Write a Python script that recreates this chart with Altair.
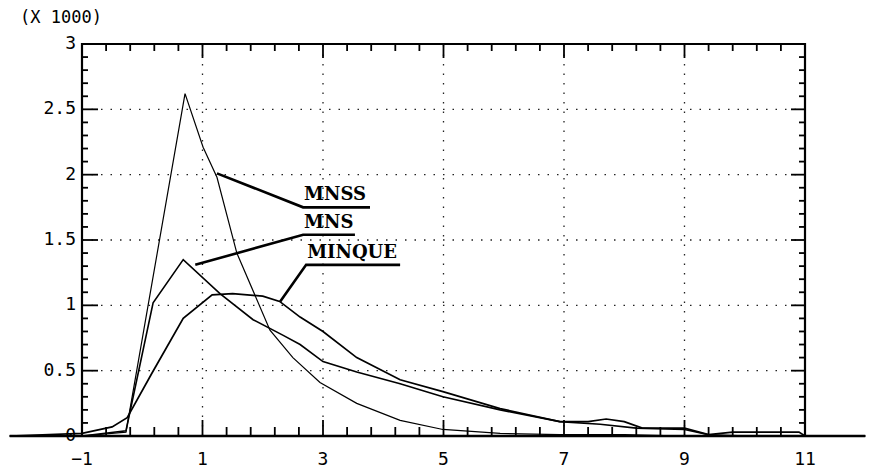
import altair as alt
import pandas as pd

# ---- curves (values in thousands) ----
mnss_x = [-2.2, -1.0, -0.27, 0.71, 1.01, 1.24, 1.57, 2.12, 2.50, 2.95, 3.56, 4.28, 4.99, 5.94, 6.93, 8.0, 9.0, 10.0, 11.0, 12.0]
mnss_y = [0.0, 0.0, 0.03, 2.62, 2.21, 1.98, 1.40, 0.81, 0.60, 0.41, 0.25, 0.12, 0.05, 0.02, 0.01, 0.01, 0.0, 0.0, 0.0, 0.0]

mns_x = [-2.2, -1.0, -0.27, 0.18, 0.68, 1.29, 1.84, 2.34, 2.62, 3.0, 3.56, 4.28, 4.99, 5.94, 6.93, 7.6, 8.2, 9.0, 9.4, 10.0, 11.0, 12.0]
mns_y = [0.0, 0.0, 0.04, 1.02, 1.35, 1.09, 0.89, 0.77, 0.70, 0.57, 0.49, 0.40, 0.30, 0.20, 0.11, 0.09, 0.06, 0.05, 0.01, 0.0, 0.0, 0.0]

minque_x = [-2.2, -1.0, -0.5, -0.25, 0.16, 0.68, 1.16, 1.5, 2.0, 2.28, 2.62, 3.0, 3.56, 4.28, 4.99, 5.94, 6.93, 7.4, 7.7, 8.0, 8.3, 9.0, 9.4, 9.8, 10.9, 11.0, 12.0]
minque_y = [0.0, 0.02, 0.07, 0.14, 0.48, 0.90, 1.08, 1.09, 1.07, 1.03, 0.91, 0.80, 0.60, 0.43, 0.34, 0.21, 0.11, 0.11, 0.13, 0.11, 0.06, 0.06, 0.01, 0.03, 0.03, 0.0, 0.0]

series_names = ["MNSS", "MNS", "MINQUE"]

# leader lines: point on curve -> elbow -> end of underline
leader_x = {"MNSS": [1.24, 2.67, 3.78], "MNS": [0.88, 2.67, 3.53], "MINQUE": [2.29, 2.72, 4.28]}
leader_y = {"MNSS": [2.01, 1.75, 1.75], "MNS": [1.31, 1.54, 1.54], "MINQUE": [1.03, 1.31, 1.31]}

# axis labels, grid and ticks
x_labels = [-1, 1, 3, 5, 7, 9, 11]
y_labels = [0, 0.5, 1, 1.5, 2, 2.5, 3]
y_label_text = ["0", "0.5", "1", "1.5", "2", "2.5", "3"]
x_major = [1, 3, 5, 7, 9]
x_minor = [round(-1 + 0.4 * k, 2) for k in range(1, 30) if k % 5]
y_major = [0.5, 1, 1.5, 2, 2.5]
y_minor = [round(0.1 * k, 2) for k in range(1, 30) if k % 5]

XMIN, XMAX, YMIN, YMAX = -1, 11, 0, 3

# ---- tables ----
rows = []
for name, xs_, ys_, w in [("MNSS", mnss_x, mnss_y, 1.2), ("MNS", mns_x, mns_y, 1.6), ("MINQUE", minque_x, minque_y, 1.7)]:
    for i, (a, b) in enumerate(zip(xs_, ys_)):
        rows.append({"series": name, "x": a, "y": b, "order": i, "w": w})
curves = pd.DataFrame(rows)

lrows = []
for name in series_names:
    for i, (a, b) in enumerate(zip(leader_x[name], leader_y[name])):
        lrows.append({"series": name, "x": a, "y": b, "order": i})
leaders = pd.DataFrame(lrows)
labels = pd.DataFrame({
    "series": series_names,
    "x": [leader_x[n][1] for n in series_names],
    "y": [leader_y[n][1] for n in series_names],
})

xs = alt.Scale(domain=[XMIN, XMAX], nice=False, zero=False)
ys = alt.Scale(domain=[YMIN, YMAX], nice=False, zero=False)

MONO = "DejaVu Sans Mono"

lines = alt.Chart(curves).mark_line(color="black", clip=False, strokeJoin="miter").encode(
    x=alt.X("x:Q", scale=xs, axis=None),
    y=alt.Y("y:Q", scale=ys, axis=None),
    detail="series:N",
    order="order:Q",
    strokeWidth=alt.StrokeWidth("w:Q", scale=None),
)

# dotted grid
vgrid = alt.Chart(pd.DataFrame({"v": x_major})).mark_rule(
    color="#222", strokeWidth=1.3, strokeDash=[1.5, 8]
).encode(
    x=alt.X("v:Q", scale=xs, axis=None),
    y=alt.YDatum(YMIN, scale=ys, axis=None),
    y2=alt.Y2Datum(YMAX),
)
hgrid = alt.Chart(pd.DataFrame({"v": y_major})).mark_rule(
    color="#222", strokeWidth=1.3, strokeDash=[1.5, 8]
).encode(
    y=alt.Y("v:Q", scale=ys, axis=None),
    x=alt.XDatum(XMIN, scale=xs, axis=None),
    x2=alt.X2Datum(XMAX),
)

# tick labels
xlab = alt.Chart(pd.DataFrame({"v": x_labels})).mark_text(
    baseline="top", dy=15, font=MONO, fontSize=18, color="black", clip=False
).encode(
    x=alt.X("v:Q", scale=xs, axis=None),
    y=alt.YDatum(YMIN, scale=ys, axis=None),
    text=alt.Text("v:Q", format="d"),
)
ylab = alt.Chart(pd.DataFrame({"v": y_labels, "t": y_label_text})).mark_text(
    align="right", baseline="middle", dx=-6, font=MONO, fontSize=18, color="black", clip=False
).encode(
    y=alt.Y("v:Q", scale=ys, axis=None),
    x=alt.XDatum(XMIN, scale=xs, axis=None),
    text="t:N",
)

# thick zero line under the tails of the curves
baseline = alt.Chart(curves).mark_rule(color="black", strokeWidth=2.6, clip=False).encode(
    x=alt.X("min(x):Q", scale=xs, axis=None),
    x2="max(x):Q",
    y=alt.YDatum(0, scale=ys, axis=None),
)

lead = alt.Chart(leaders).mark_line(color="black", strokeWidth=2.6, clip=False).encode(
    x=alt.X("x:Q", scale=xs, axis=None),
    y=alt.Y("y:Q", scale=ys, axis=None),
    detail="series:N",
    order="order:Q",
)

text = alt.Chart(labels).mark_text(
    align="left", baseline="bottom", dx=1, dy=-3,
    font="DejaVu Serif", fontWeight="bold", fontSize=18, color="black",
).encode(
    x=alt.X("x:Q", scale=xs, axis=None),
    y=alt.Y("y:Q", scale=ys, axis=None),
    text="series:N",
)


def yticks(vals, at, off):
    return alt.Chart(pd.DataFrame({"v": vals})).mark_rule(
        color="black", strokeWidth=1.8, x2Offset=off, clip=False
    ).encode(
        y=alt.Y("v:Q", scale=ys, axis=None),
        x=alt.XDatum(at, scale=xs, axis=None),
        x2=alt.X2Datum(at),
    )


def xticks(vals, at, off):
    return alt.Chart(pd.DataFrame({"v": vals})).mark_rule(
        color="black", strokeWidth=1.8, y2Offset=off, clip=False
    ).encode(
        x=alt.X("v:Q", scale=xs, axis=None),
        y=alt.YDatum(at, scale=ys, axis=None),
        y2=alt.Y2Datum(at),
    )


ticks = [
    yticks(y_minor, XMIN, 6), yticks(y_major, XMIN, 16),
    yticks(y_minor, XMAX, -6), yticks(y_major, XMAX, -14),
    xticks(x_minor, YMIN, -9), xticks(x_major, YMIN, -16),
    xticks(x_minor, YMAX, 7), xticks(x_major, YMAX, 14),
]

chart = alt.layer(vgrid, hgrid, lines, *ticks, baseline, lead, text, xlab, ylab).properties(
    width=723,
    height=392,
    background="white",
    autosize=alt.AutoSizeParams(type="none"),
    padding={"left": 82, "top": 44, "right": 72, "bottom": 36},
    title=alt.TitleParams("(X 1000)", anchor="start", frame="group", dx=-62, offset=8,
                          font=MONO, fontSize=17, fontWeight="normal", color="black"),
).configure_view(stroke="black", strokeWidth=2.2)

chart.save("out.html", embed_options={"renderer": "svg", "actions": False})
